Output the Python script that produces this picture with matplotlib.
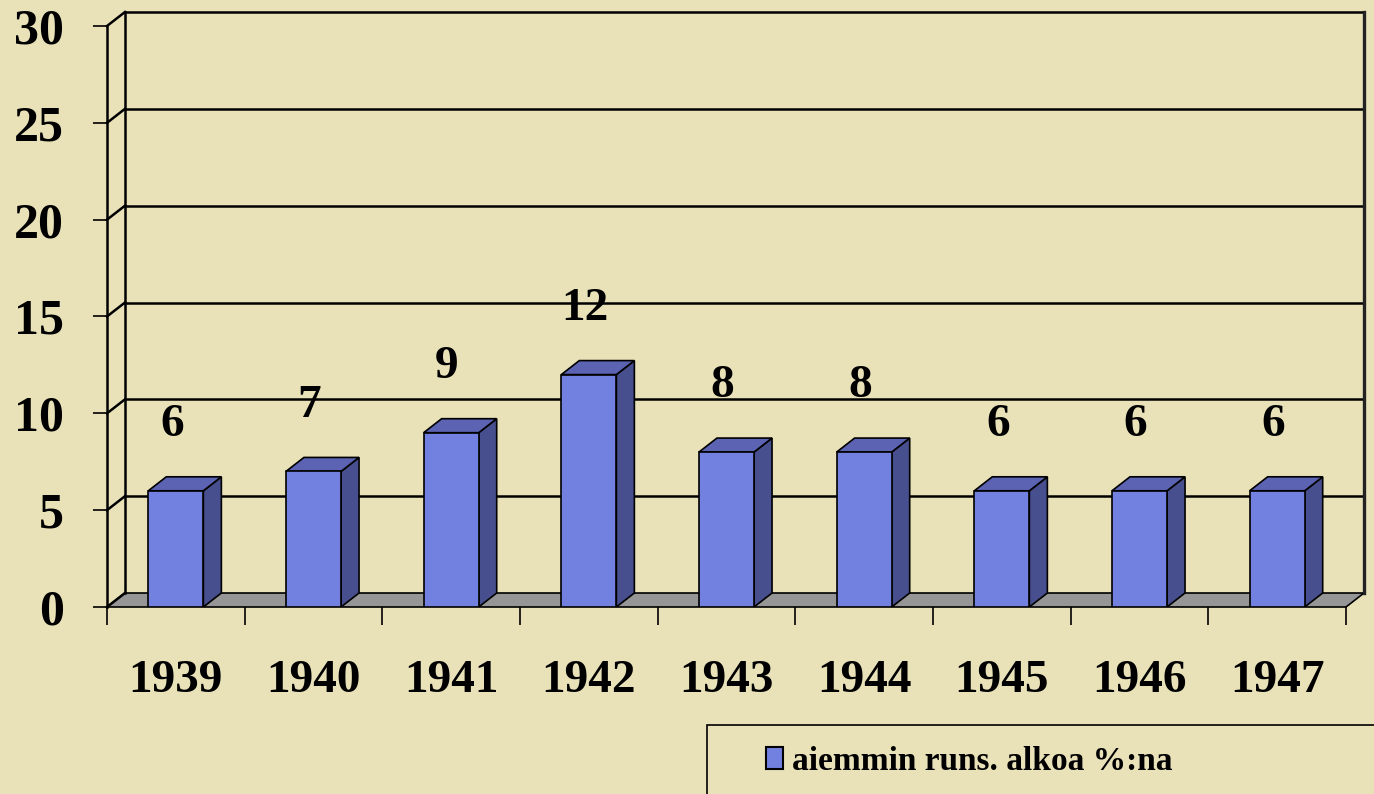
import matplotlib
matplotlib.use('Agg')
import numpy as np
import matplotlib.pyplot as plt
from matplotlib.patches import Polygon, Rectangle, Patch

years = ['1939', '1940', '1941', '1942', '1943', '1944', '1945', '1946', '1947']
values = [6, 7, 9, 12, 8, 8, 6, 6, 6]
series_name = 'aiemmin runs. alkoa %:na'
y_ticks = [0, 5, 10, 15, 20, 25, 30]

bg = '#E9E2B9'
front_col = '#7280E0'
side_col = '#484F8E'
top_col = '#5B63B2'
floor_col = '#969696'
serif = 'Liberation Serif'

W, H = 1374, 794
fig = plt.figure(figsize=(W / 100, H / 100), dpi=100, facecolor=bg)

# axes box in pixels: front axis x=107, back wall right x=1364, floor y=607, top y=12
left_px, right_px, bottom_px, top_px = 107, 1364, 607, 12
ax = fig.add_axes([left_px / W, 1 - bottom_px / H,
                   (right_px - left_px) / W, (bottom_px - top_px) / H])
ax.set_facecolor('none')

n = len(years)
px_per_x = 137.7
px_per_y = 19.37
ddx = 18 / px_per_x   # depth offset, data units
ddy = 14 / px_per_y
ymax = max(y_ticks)
ax.set_xlim(-0.5, n - 0.5 + ddx)
ax.set_ylim(0, ymax + ddy)
for s in ax.spines.values():
    s.set_visible(False)

lw = 1.8
x0, x1 = -0.5, n - 0.5

# floor
floor = Polygon([(x0, 0), (x1, 0), (x1 + ddx, ddy), (x0 + ddx, ddy)],
                closed=True, facecolor=floor_col, edgecolor='black', lw=1.2,
                clip_on=False, zorder=1)
ax.add_patch(floor)

# back wall gridlines and left diagonals
for v in y_ticks:
    if v > 0:
        ax.plot([x0 + ddx, x1 + ddx], [v + ddy, v + ddy], color='black', lw=lw,
                clip_on=False, zorder=2)
    ax.plot([x0, x0 + ddx], [v, v + ddy], color='black', lw=lw, clip_on=False, zorder=2)
ax.plot([x0 + ddx, x0 + ddx], [ddy, ymax + ddy], color='black', lw=lw, clip_on=False, zorder=2)
ax.plot([x1 + ddx, x1 + ddx], [ddy, ymax + ddy], color='#222222', lw=2.4, clip_on=False, zorder=2)
ax.plot([x0, x0], [0, ymax], color='black', lw=lw, clip_on=False, zorder=2)

# 3d bars
bw = 0.40
for i, v in enumerate(values):
    a, b = i - bw / 2, i + bw / 2
    ax.add_patch(Polygon([(b, 0), (b + ddx, ddy), (b + ddx, v + ddy), (b, v)],
                         facecolor=side_col, edgecolor='black', lw=1.2, zorder=3))
    ax.add_patch(Polygon([(a, v), (b, v), (b + ddx, v + ddy), (a + ddx, v + ddy)],
                         facecolor=top_col, edgecolor='black', lw=1.2, zorder=3))
    ax.add_patch(Rectangle((a, 0), bw, v, facecolor=front_col, edgecolor='black',
                           lw=1.2, zorder=4))
    ax.text(i - 0.03, v + 3.4, str(v), ha='center', va='center', fontsize=34,
            fontweight='bold', family=serif, zorder=5)

# ticks
ax.set_yticks(y_ticks)
ax.set_yticklabels([str(t) for t in y_ticks], fontsize=36, fontweight='bold', family=serif)
ax.tick_params(axis='y', direction='out', length=10, width=1.2, pad=21)
ax.set_xticks(np.arange(n))
ax.set_xticklabels(years, fontsize=34, fontweight='bold', family=serif)
ax.set_xticks(np.arange(n + 1) - 0.5, minor=True)
ax.tick_params(axis='x', which='major', length=0, pad=38)
ax.tick_params(axis='x', which='minor', direction='out', length=13, width=1.2)

# legend box (runs off the bottom-right of the picture)
fig.patches.append(Rectangle((707 / W, -0.1), 1.0, 0.1 + (H - 725) / H,
                             transform=fig.transFigure, facecolor='none',
                             edgecolor='black', lw=1.2))
fig.legend(handles=[Patch(facecolor=front_col, edgecolor='black', lw=1.5, label=series_name)],
           loc='center left', bbox_to_anchor=(766 / W, 1 - 761 / H), frameon=False,
           prop={'family': serif, 'weight': 'bold', 'size': 24},
           handlelength=0.52, handleheight=0.66, handletextpad=0.27,
           borderpad=0, borderaxespad=0)

fig.savefig('out.png', dpi=100, facecolor=bg)
